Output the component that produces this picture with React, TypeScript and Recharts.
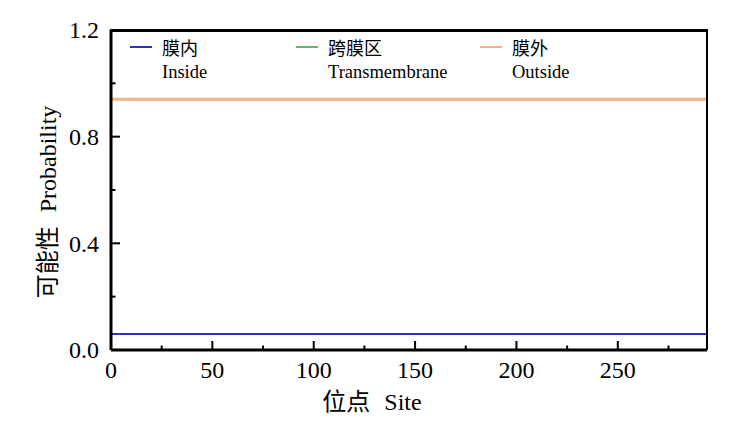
import React from "react";
import { LineChart, Line, XAxis, YAxis } from "recharts";

// Data
const sites = [0, 50, 100, 150, 200, 250, 294];
const insideProb = [0.06, 0.06, 0.06, 0.06, 0.06, 0.06, 0.06];
const transProb = [0, 0, 0, 0, 0, 0, 0];
const outsideProb = [0.94, 0.94, 0.94, 0.94, 0.94, 0.94, 0.94];

const xTicks = [0, 25, 50, 75, 100, 125, 150, 175, 200, 225, 250, 275];
const xMajor = [0, 50, 100, 150, 200, 250];
const yTicks = [0, 0.2, 0.4, 0.6, 0.8, 1.0, 1.2];
const yMajor = [0, 0.4, 0.8, 1.2];
const yMax = 1.2;

const seriesNames = [
  { key: "inside", zh: "膜内", en: "Inside", color: "#3030c8" },
  { key: "trans", zh: "跨膜区", en: "Transmembrane", color: "#66b266" },
  { key: "outside", zh: "膜外", en: "Outside", color: "#f4b183" },
];

const data = sites.map((s, i) => ({
  site: s,
  inside: insideProb[i],
  trans: transProb[i],
  outside: outsideProb[i],
}));

const W = 735;
const H = 428;
const MARGIN = { top: 30, right: 27, left: 11, bottom: 18 };
const RIGHT_AXIS_W = 1;
const Y_AXIS_W = 100;
const PLOT_LEFT = MARGIN.left + Y_AXIS_W;
const PLOT_RIGHT = W - MARGIN.right - RIGHT_AXIS_W;

const FONT = '"Liberation Serif", "Times New Roman", "Noto Sans CJK SC", serif';
const CJK = '"Noto Sans CJK SC", sans-serif';

const XTick = (props: any) => {
  const { x, y, payload } = props;
  const v = payload.value;
  const major = xMajor.includes(v);
  return (
    <g>
      <line x1={x} x2={x} y1={y} y2={y - (major ? 9 : 4.5)} stroke="#000" strokeWidth={2} />
      {major && (
        <text x={x} y={y + 28} textAnchor="middle" fontSize={24} fontFamily={FONT} fill="#000">
          {v}
        </text>
      )}
    </g>
  );
};

const YTick = (props: any) => {
  const { x, y, payload } = props;
  const v = payload.value;
  const major = yMajor.some((m) => Math.abs(m - v) < 1e-9);
  return (
    <g>
      <line x1={x} x2={x + (major ? 9 : 4.5)} y1={y} y2={y} stroke="#000" strokeWidth={2} />
      {major && (
        <text x={x - 12} y={y} dy="0.35em" textAnchor="end" fontSize={24} fontFamily={FONT} fill="#000">
          {v.toFixed(1)}
        </text>
      )}
    </g>
  );
};

const Overlay = () => {
  const offsets = [19, 185, 369];
  return (
    <>
      <div
        style={{
          position: "absolute",
          left: PLOT_LEFT - 1.5,
          top: MARGIN.top - 1.5,
          width: PLOT_RIGHT - PLOT_LEFT + 2.5,
          height: 3,
          background: "#000",
        }}
      />
      <div
        style={{
          position: "absolute",
          left: PLOT_LEFT,
          top: 36,
          width: 596,
          height: 54,
          fontFamily: FONT,
          color: "#000",
          pointerEvents: "none",
        }}
      >
        {seriesNames.map((s, i) => (
          <div key={s.key}>
            <div
              style={{
                position: "absolute",
                left: offsets[i],
                top: 10,
                width: 22,
                height: 2,
                background: s.color,
              }}
            />
            <div
              style={{
                position: "absolute",
                left: offsets[i] + 32,
                top: -1,
                lineHeight: "24px",
                fontSize: 18,
                whiteSpace: "nowrap",
                fontFamily: CJK,
              }}
            >
              {s.zh}
            </div>
            <div
              style={{
                position: "absolute",
                left: offsets[i] + 32,
                top: 24,
                lineHeight: "24px",
                fontSize: 18.5,
                whiteSpace: "nowrap",
              }}
            >
              {s.en}
            </div>
          </div>
        ))}
      </div>
    </>
  );
};

const YLabel = (props: any) => {
  const vb = props.viewBox;
  const cx = 48;
  const cy = vb.y + vb.height / 2 + 12;
  return (
    <text
      x={cx}
      y={cy}
      transform={`rotate(-90 ${cx} ${cy})`}
      textAnchor="middle"
      dy="0.35em"
      fontSize={24}
      fill="#000"
      fontFamily={FONT}
    >
      <tspan fontFamily={CJK}>可能性</tspan>
      <tspan dx={14}>Probability</tspan>
    </text>
  );
};

const XLabel = () => {
  return (
    <text x={372} y={410} textAnchor="middle" fontSize={24} fill="#000" fontFamily={FONT}>
      <tspan fontFamily={CJK}>位点</tspan>
      <tspan dx={14}>Site</tspan>
    </text>
  );
};

export default function App() {
  return (
    <div style={{ position: "fixed", left: 0, top: 0, width: W, height: H, background: "#fff", fontFamily: FONT }}>
      <LineChart width={W} height={H} data={data} margin={MARGIN}>
        <XAxis
          dataKey="site"
          type="number"
          domain={[0, 294]}
          ticks={xTicks}
          interval={0}
          tickSize={0}
          tickMargin={0}
          tick={<XTick />}
          tickLine={false}
          height={60}
          axisLine={{ stroke: "#000", strokeWidth: 3 }}
          label={<XLabel />}
        />
        <YAxis
          type="number"
          domain={[0, yMax]}
          ticks={yTicks}
          interval={0}
          tickSize={0}
          tickMargin={0}
          tick={<YTick />}
          tickLine={false}
          width={Y_AXIS_W}
          axisLine={{ stroke: "#000", strokeWidth: 3 }}
          label={<YLabel />}
        />
        <YAxis
          yAxisId="right"
          orientation="right"
          type="number"
          domain={[0, yMax]}
          width={RIGHT_AXIS_W}
          tick={false}
          tickLine={false}
          axisLine={{ stroke: "#000", strokeWidth: 2 }}
        />
        <Line dataKey="trans" stroke="#66b266" strokeWidth={2} dot={false} isAnimationActive={false} />
        <Line dataKey="inside" stroke="#3030c8" strokeWidth={2} dot={false} isAnimationActive={false} />
        <Line dataKey="outside" stroke="#f4b183" strokeWidth={3} dot={false} isAnimationActive={false} />
      </LineChart>
      <Overlay />
    </div>
  );
}
